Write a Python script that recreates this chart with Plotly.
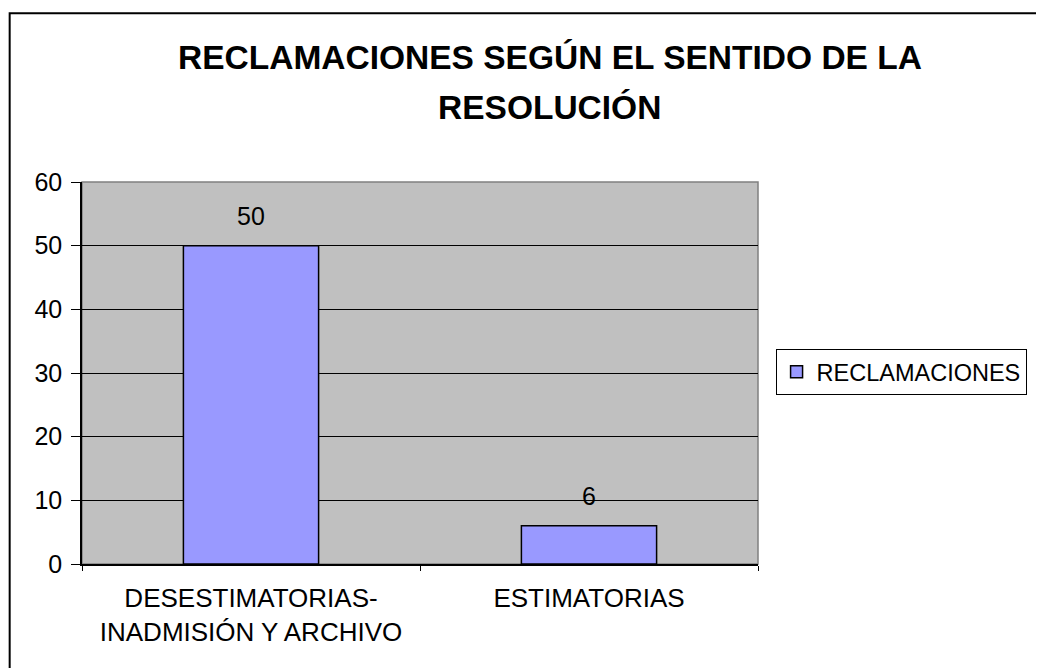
import plotly.graph_objs as go

categories = ["DESESTIMATORIAS-<br>INADMISIÓN Y ARCHIVO", "ESTIMATORIAS"]
reclamaciones = [50, 6]
series_name = "RECLAMACIONES"
title_lines = ["RECLAMACIONES SEGÚN EL SENTIDO DE LA", "RESOLUCIÓN"]
y_ticks = [0, 10, 20, 30, 40, 50, 60]

FONT = "Liberation Sans, Arial, sans-serif"

fig = go.Figure()

fig.add_trace(
    go.Bar(x=categories, y=reclamaciones, name=series_name,
           marker=dict(color="#9999FF", line=dict(color="black", width=1.5)))
)

# data labels above bars
for cat, val in zip(categories, reclamaciones):
    fig.add_annotation(x=cat, y=val, text=str(val), showarrow=False,
                       xref="x", yref="y", yanchor="bottom", yshift=14,
                       font=dict(family=FONT, size=25, color="black"))

# two-line title (Excel-style wide line spacing)
fig.add_annotation(x=0.692, y=1.327, xref="paper", yref="paper", text="<b>%s</b>" % title_lines[0],
                   showarrow=False, xanchor="center", yanchor="middle",
                   font=dict(family=FONT, size=33.5, color="black"))
fig.add_annotation(x=0.692, y=1.194, xref="paper", yref="paper", text="<b>%s</b>" % title_lines[1],
                   showarrow=False, xanchor="center", yanchor="middle",
                   font=dict(family=FONT, size=33.5, color="black"))

# plot area border and outer chart border
fig.add_shape(type="rect", xref="paper", yref="paper", x0=0, x1=1, y0=0, y1=1,
              line=dict(color="#808080", width=1.5), layer="below")
fig.add_shape(type="rect", xref="paper", yref="paper", x0=-0.107, x1=1.6, y0=-0.6, y1=1.442,
              line=dict(color="black", width=2))

# page body has an 8px margin, so the figure is 8px smaller and shifted
fig.update_layout(
    width=1036, height=660,
    margin=dict(l=74, r=286, t=174, b=104, autoexpand=False),
    paper_bgcolor="white", plot_bgcolor="#C0C0C0",
    font=dict(family=FONT, size=26, color="black"),
    bargap=0.6,
    showlegend=True,
    legend=dict(x=1.026, y=0.563, xanchor="left", yanchor="top",
                bgcolor="white", bordercolor="black", borderwidth=1,
                font=dict(family=FONT, size=23.5, color="black")),
    xaxis=dict(type="category", tickson="boundaries", ticks="outside", ticklen=5,
               tickcolor="black", showline=True, linecolor="black", linewidth=1.5,
               showgrid=False, tickfont=dict(size=26), ticklabelstandoff=10),
    yaxis=dict(range=[0, 60], tickvals=y_ticks, ticks="outside", ticklen=9,
               tickcolor="black", showline=True, linecolor="black", linewidth=1.5,
               showgrid=True, gridcolor="black", gridwidth=1, zeroline=False,
               tickfont=dict(size=25), ticklabelstandoff=4),
)

fig.write_html("out.html")
